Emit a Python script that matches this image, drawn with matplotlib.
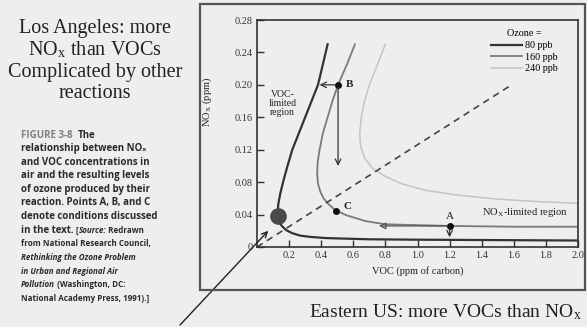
import matplotlib
matplotlib.use("Agg")
import matplotlib.pyplot as plt
from matplotlib.patches import Rectangle

# ozone isopleths (VOC ppm C, NOx ppm)
voc_80 = [0.44, 0.41, 0.38, 0.34, 0.30, 0.26, 0.22, 0.19, 0.165, 0.145, 0.132, 0.13,
          0.135, 0.15, 0.18, 0.22, 0.27, 0.33, 0.43, 0.70, 1.00, 1.50, 2.00]
nox_80 = [0.25, 0.225, 0.20, 0.18, 0.16, 0.14, 0.12, 0.10, 0.082, 0.066, 0.052, 0.042,
          0.034, 0.027, 0.021, 0.017, 0.014, 0.0125, 0.011, 0.0095, 0.009, 0.0085, 0.008]

voc_160 = [0.61, 0.56, 0.505, 0.47, 0.44, 0.41, 0.39, 0.378, 0.375, 0.38, 0.395, 0.415, 0.44,
           0.49, 0.56, 0.675, 0.80, 1.00, 1.20, 1.60, 2.00]
nox_160 = [0.25, 0.225, 0.20, 0.18, 0.16, 0.14, 0.12, 0.105, 0.09, 0.078, 0.068, 0.06, 0.054,
           0.045, 0.039, 0.032, 0.028, 0.027, 0.026, 0.025, 0.025]

voc_240 = [0.80, 0.74, 0.70, 0.67, 0.65, 0.64, 0.645, 0.67, 0.72, 0.80, 0.90, 1.05, 1.25, 1.50, 1.75, 2.00]
nox_240 = [0.25, 0.22, 0.20, 0.18, 0.16, 0.14, 0.125, 0.11, 0.097, 0.087, 0.078, 0.070, 0.064, 0.059, 0.056, 0.054]

voc_ratio = [0.0, 1.57]
nox_ratio = [0.0, 0.198]

points = {"A": (1.2, 0.026), "B": (0.505, 0.20), "C": (0.49, 0.045)}
la_point = (0.13, 0.038)

xticks = [0.2, 0.4, 0.6, 0.8, 1.0, 1.2, 1.4, 1.6, 1.8, 2.0]
yticks = [0, 0.04, 0.08, 0.12, 0.16, 0.20, 0.24, 0.28]

# caption segments: (text, style, colour, size)
ink = "#2a2a2a"
big, small = 7.0, 5.75
caption = [
    [("FIGURE 3-8  ", "normal", "#808080", big), ("The", "normal", ink, big)],
    [("relationship between NO\u2093", "normal", ink, big)],
    [("and VOC concentrations in", "normal", ink, big)],
    [("air and the resulting levels", "normal", ink, big)],
    [("of ozone produced by their", "normal", ink, big)],
    [("reaction. Points A, B, and C", "normal", ink, big)],
    [("denote conditions discussed", "normal", ink, big)],
    [("in the text. ", "normal", ink, big), ("[", "normal", ink, small), ("Source:", "italic", ink, small),
     (" Redrawn", "normal", ink, small)],
    [("from National Research Council,", "normal", ink, small)],
    [("Rethinking the Ozone Problem", "italic", ink, small)],
    [("in Urban and Regional Air", "italic", ink, small)],
    [("Pollution", "italic", ink, small), (" (Washington, DC:", "normal", ink, small)],
    [("National Academy Press, 1991).]", "normal", ink, small)],
]

plt.rcParams['font.family'] = ['Liberation Serif', 'DejaVu Serif']
plt.rcParams['mathtext.fontset'] = 'stix'

bg = '#eeeeee'
fig = plt.figure(figsize=(5.87, 3.27), dpi=100, facecolor=bg)
W, H = 587, 327

# page frame around the chart
fig.patches.append(Rectangle((200 / W, 1 - 290 / H), 385 / W, 286 / H, transform=fig.transFigure,
                             fill=False, edgecolor='#555555', linewidth=1.6))

ax = fig.add_axes([257 / W, 1 - 247 / H, 321 / W, 227 / H], facecolor=bg)

ax.plot(voc_240, nox_240, color='#c4c4c4', linewidth=1.1, label='240 ppb')
ax.plot(voc_160, nox_160, color='#7a7a7a', linewidth=1.3, label='160 ppb')
ax.plot(voc_80, nox_80, color='#333333', linewidth=1.6, label='80 ppb')
ax.plot(voc_ratio, nox_ratio, color='#444444', linewidth=1.2, linestyle=(0, (4, 3)))

for name, (px, py) in points.items():
    ax.plot(px, py, 'o', color='#111111', markersize=4)
ax.plot(*la_point, 'o', color='#4a4a4a', markersize=11)

arrow_kw = dict(arrowstyle='->', color='#333333', lw=0.9, shrinkA=2, shrinkB=0)
bx, by = points["B"]
ax.annotate('', xy=(0.39, by), xytext=(bx, by), arrowprops=arrow_kw)
ax.annotate('', xy=(bx, 0.10), xytext=(bx, by), arrowprops=arrow_kw)
axx, axy = points["A"]
ax.annotate('', xy=(0.76, axy), xytext=(axx, axy), arrowprops=dict(arrowstyle='-|>', color='#555555', lw=0.9,
                                                                      fill=False, shrinkA=2, shrinkB=0))
ax.annotate('', xy=(axx, 0.012), xytext=(axx, axy), arrowprops=arrow_kw)

ax.text(bx + 0.05, by, 'B', fontsize=8, fontweight='bold', va='center', color='#222222')
ax.text(0.54, 0.05, 'C', fontsize=8, fontweight='bold', va='center', color='#222222')
ax.text(axx, axy + 0.006, 'A', fontsize=8, ha='center', va='bottom', color='#222222')
ax.text(0.16, 0.177, 'VOC-\nlimited\nregion', fontsize=7, ha='center', va='center',
        linespacing=1.0, color='#222222')
ax.text(1.67, 0.043, 'NO$_\\mathregular{X}$-limited region', fontsize=7.6, ha='center', va='center',
        color='#222222')

# long arrow coming from outside the plot toward the low-ratio corner
ax.annotate('', xy=(0.07, 0.02), xytext=(180 / W, 1 - 325 / H), textcoords='figure fraction',
            arrowprops=dict(arrowstyle='->', color='#222222', lw=1.0, shrinkA=0, shrinkB=0),
            annotation_clip=False)

ax.set_xlim(0, 2.0)
ax.set_ylim(0, 0.28)
ax.set_xticks(xticks)
ax.set_xticklabels([f"{v:.1f}" for v in xticks])
ax.set_yticks(yticks)
ax.set_yticklabels(['0'] + [f"{v:.2f}" for v in yticks[1:]])
ax.tick_params(direction='in', length=5, width=1, labelsize=7.5, colors='#333333', pad=3)
for s in ax.spines.values():
    s.set_color('#333333')
    s.set_linewidth(1.2)
ax.set_xlabel('VOC (ppm of carbon)', fontsize=7.5, color='#222222', labelpad=4)
ax.set_ylabel('NO$_\\mathregular{X}$ (ppm)', fontsize=7.5, color='#222222', labelpad=4)
ax.yaxis.set_label_coords(-0.135, 0.64)

handles, labels = ax.get_legend_handles_labels()
leg = ax.legend(handles[::-1], labels[::-1], title='Ozone =', loc='upper right',
                bbox_to_anchor=(0.955, 0.985), frameon=False, fontsize=7.3, title_fontsize=7.3,
                handlelength=3.0, handletextpad=0.3, labelspacing=0.25, borderaxespad=0.2)

# left-hand notes
for i, line in enumerate(["Los Angeles: more", "NO$_\\mathregular{x}$ than VOCs",
                          "Complicated by other", "reactions"]):
    fig.text(95 / W, 1 - (28 + 22 * i) / H, line, fontsize=14.5, ha='center', va='center',
             color='#222222')
fig.text(445 / W, 1 - 312 / H, "Eastern US: more VOCs than NO$_\\mathregular{x}$", fontsize=14,
         ha='center', va='center', color='#222222')

# caption, drawn segment by segment so italics and the smaller source note sit inline
renderer = fig.canvas.get_renderer()
for i, segs in enumerate(caption):
    x = 21
    y = 1 - (135 + 13.6 * i) / H
    for txt, style, col, size in segs:
        t = fig.text(x / W, y, txt, fontsize=size, fontstyle=style, fontweight='bold', color=col,
                     va='center', ha='left', family=['Open Sans', 'DejaVu Sans'])
        x += t.get_window_extent(renderer).width

fig.savefig('out.png', dpi=100, facecolor=bg)
